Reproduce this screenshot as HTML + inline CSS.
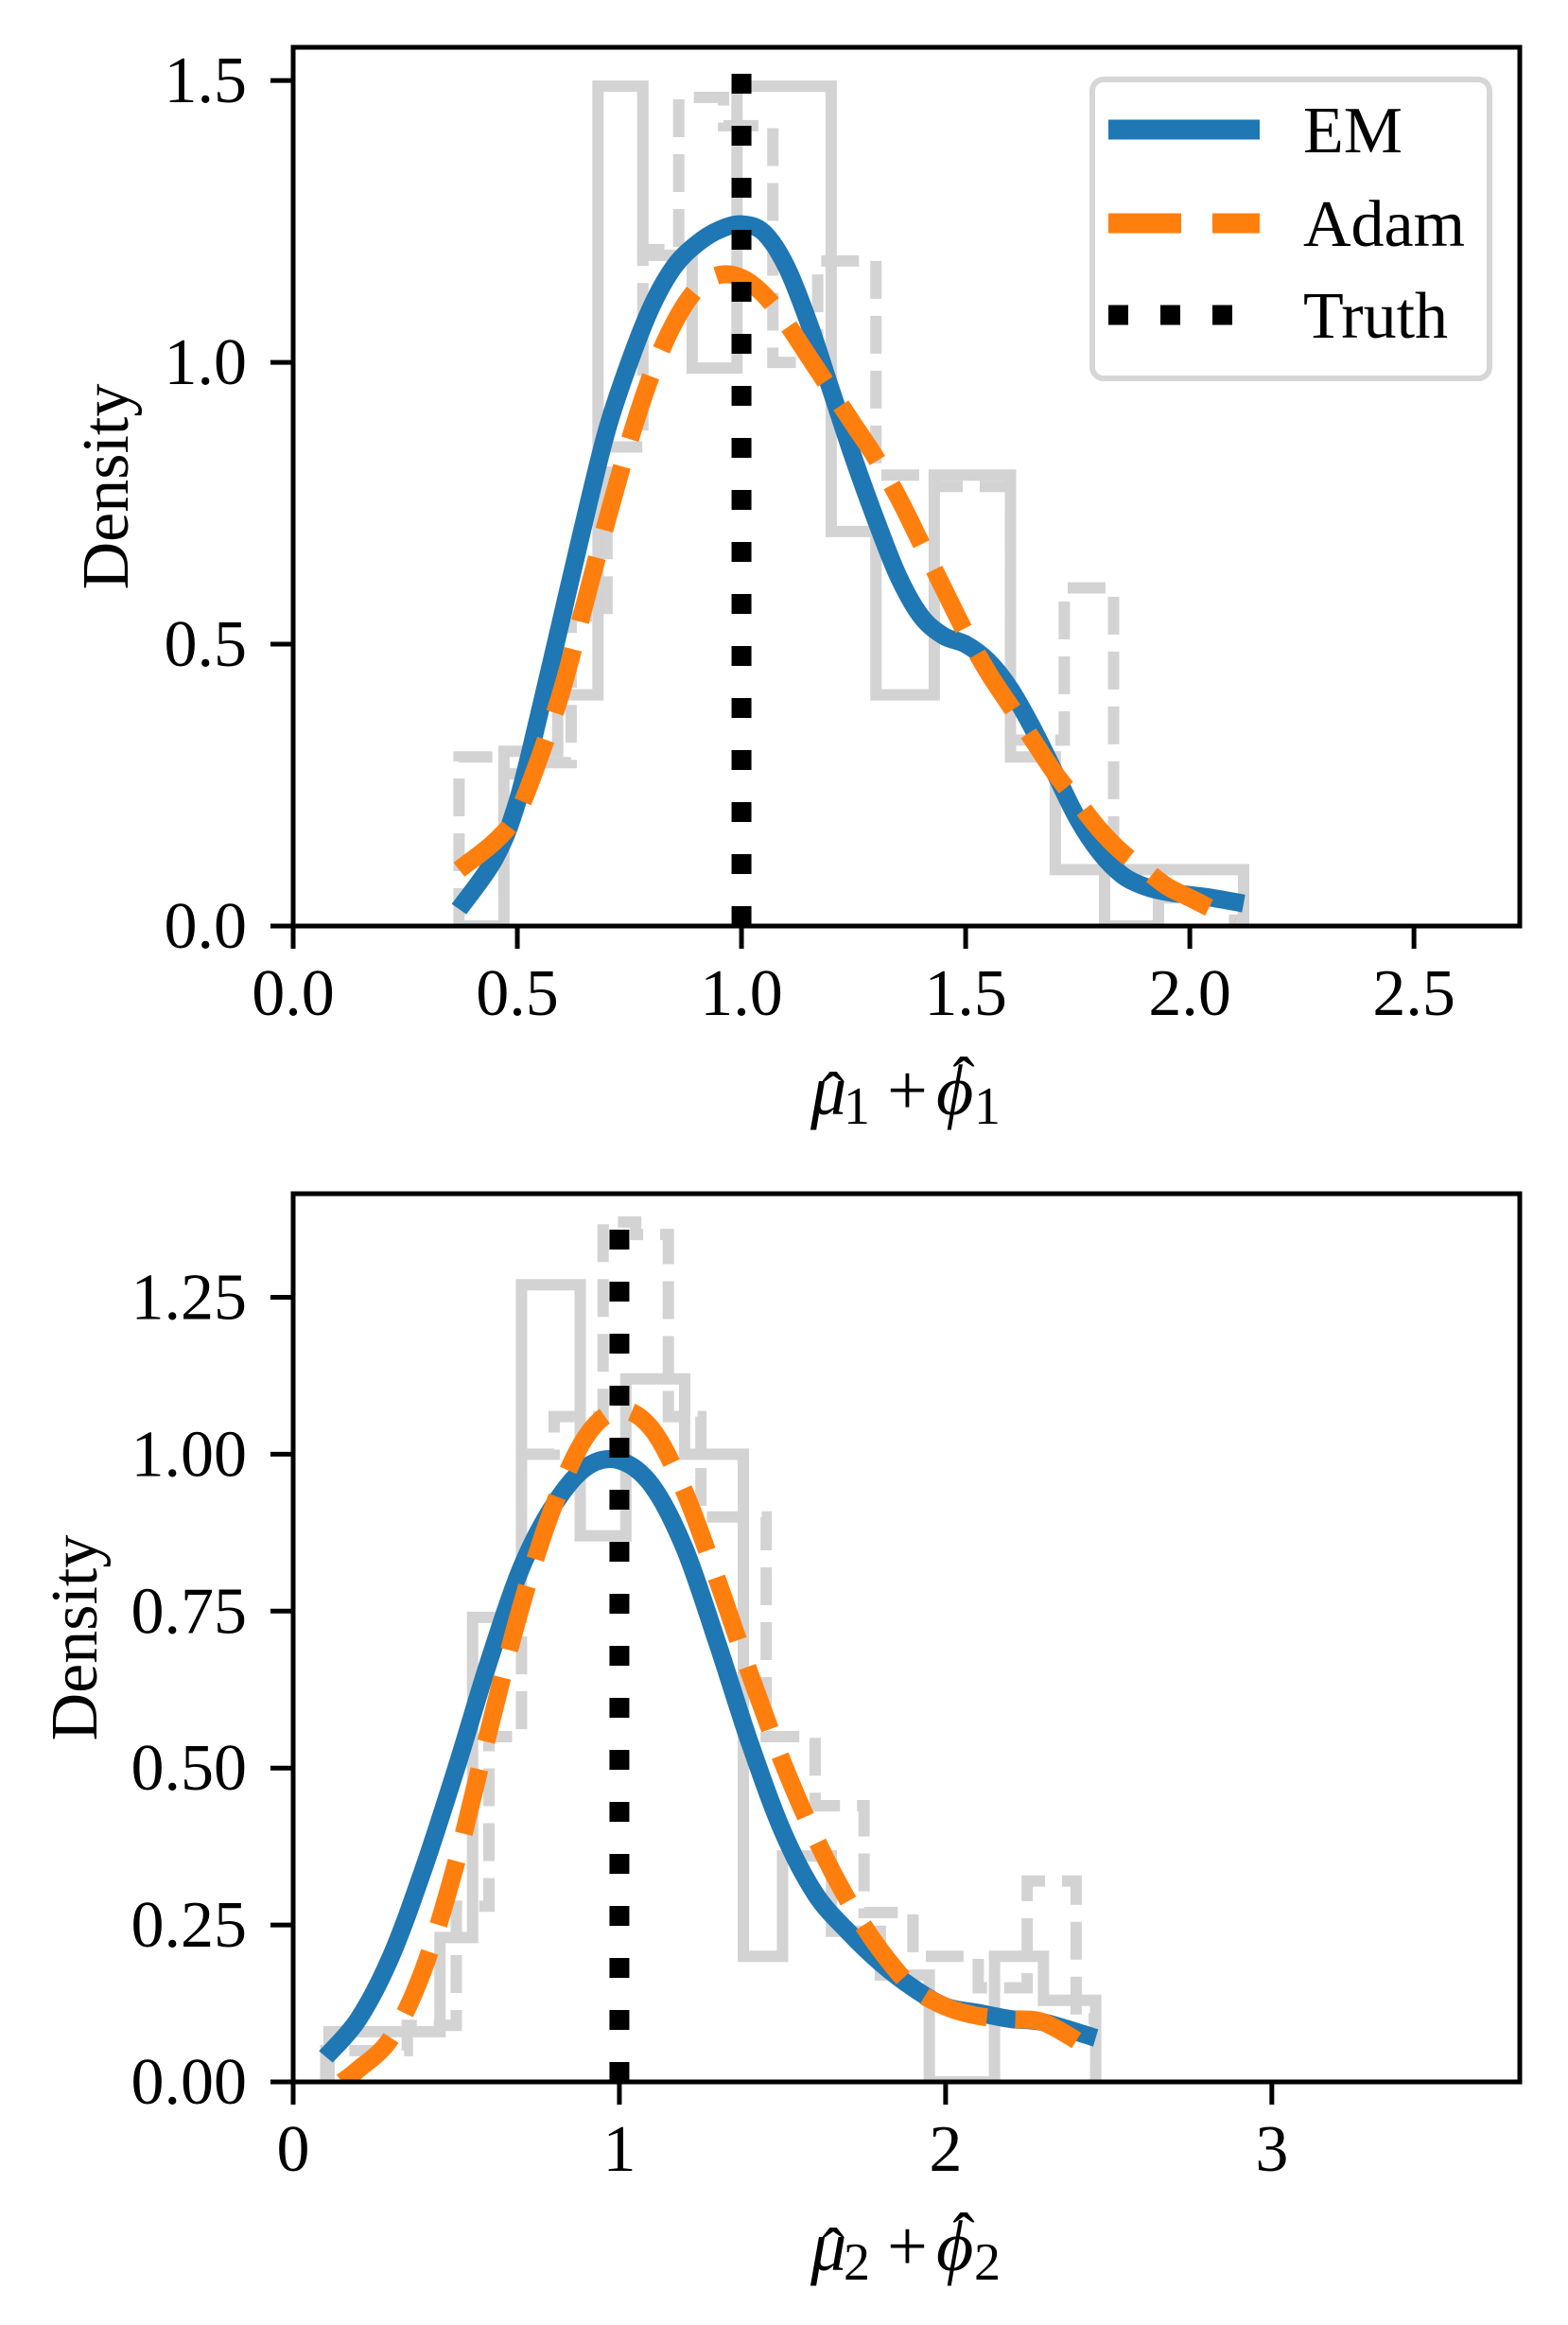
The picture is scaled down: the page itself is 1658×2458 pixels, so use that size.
<!DOCTYPE html>
<html><head><meta charset="utf-8"><style>
html,body{margin:0;padding:0;background:#fff;}
svg{display:block;font-family:"Liberation Serif","DejaVu Serif",serif;}
</style></head><body>
<svg id="fig" width="1658" height="2458" viewBox="0 0 1658 2458" xmlns="http://www.w3.org/2000/svg">
<rect width="1658" height="2458" fill="#fff"/>
<g id="top"></g>
<g id="bot"></g>
</svg>
<script>
// ----- Top panel data -----
const topX = [0.37,0.45,0.5,0.55,0.6,0.65,0.7,0.75,0.8,0.85,0.9,0.95,1.0,1.05,1.1,1.15,1.2,1.25,1.3,1.35,1.4,1.45,1.5,1.55,1.6,1.65,1.7,1.75,1.8,1.85,1.9,1.95,2.0,2.05,2.12];
const topEM = [0.03,0.12,0.22,0.38,0.55,0.72,0.88,1.0,1.1,1.17,1.21,1.235,1.245,1.23,1.17,1.07,0.95,0.83,0.72,0.62,0.55,0.515,0.5,0.47,0.42,0.35,0.27,0.19,0.13,0.09,0.07,0.06,0.055,0.05,0.04];
const topAdamX = [0.37,0.45,0.5,0.55,0.6,0.65,0.7,0.75,0.8,0.85,0.9,0.95,1.0,1.05,1.1,1.15,1.2,1.25,1.3,1.35,1.4,1.45,1.5,1.55,1.6,1.65,1.7,1.75,1.8,1.85,1.9,1.95,2.0,2.05,2.1];
const topAdam = [0.1,0.15,0.2,0.3,0.42,0.57,0.72,0.86,0.98,1.07,1.13,1.155,1.15,1.12,1.07,1.01,0.95,0.89,0.83,0.76,0.68,0.6,0.52,0.45,0.39,0.33,0.27,0.22,0.17,0.13,0.1,0.07,0.05,0.03,0.01];
const topHistSolidEdges = [0.37,0.47,0.59,0.68,0.78,0.89,0.99,1.2,1.3,1.43,1.6,1.7,1.81,1.93,2.12];
const topHistSolid = [0.0,0.31,0.41,1.49,1.19,0.99,1.49,0.7,0.41,0.8,0.3,0.1,0.0,0.1];
const topHistDashEdges = [0.37,0.47,0.55,0.62,0.7,0.78,0.86,0.96,1.07,1.17,1.3,1.43,1.6,1.72,1.83,1.93,2.1];
const topHistDash = [0.3,0.27,0.29,0.55,0.85,1.2,1.47,1.42,1.0,1.18,0.8,0.78,0.33,0.6,0.1,0.05];
const topXTicks = [0,0.5,1.0,1.5,2.0,2.5];
const topXTickLabels = ["0.0","0.5","1.0","1.5","2.0","2.5"];
const topYTicks = [0,0.5,1.0,1.5];
const topYTickLabels = ["0.0","0.5","1.0","1.5"];
const topTruth = [1.0, 1.52];

// ----- Bottom panel data -----
const botX = [0.1,0.2,0.3,0.4,0.5,0.6,0.7,0.8,0.9,1.0,1.1,1.2,1.3,1.4,1.5,1.6,1.7,1.8,1.9,2.0,2.1,2.2,2.3,2.46];
const botEM = [0.04,0.1,0.2,0.34,0.5,0.67,0.82,0.92,0.98,0.99,0.95,0.85,0.7,0.54,0.4,0.3,0.24,0.19,0.15,0.12,0.11,0.1,0.095,0.07];
const botAdamX = [0.15,0.2,0.3,0.4,0.5,0.6,0.7,0.8,0.9,1.0,1.1,1.2,1.3,1.4,1.5,1.6,1.7,1.8,1.9,2.0,2.1,2.2,2.3,2.42];
const botAdam = [0.0,0.02,0.07,0.18,0.35,0.56,0.76,0.92,1.03,1.07,1.04,0.94,0.8,0.65,0.51,0.39,0.29,0.21,0.15,0.12,0.105,0.1,0.095,0.06];
const botHistSolidEdges = [0.11,0.45,0.55,0.7,0.88,1.02,1.2,1.38,1.5,1.65,1.8,1.95,2.15,2.3,2.46];
const botHistSolid = [0.08,0.23,0.74,1.27,0.87,1.12,1.0,0.2,0.36,0.24,0.17,0.0,0.2,0.13];
const botHistDashEdges = [0.1,0.35,0.5,0.6,0.7,0.8,0.95,1.05,1.15,1.25,1.45,1.6,1.75,1.9,2.1,2.25,2.4,2.46];
const botHistDash = [0.05,0.09,0.28,0.55,1.0,1.06,1.37,1.35,1.06,0.9,0.55,0.44,0.27,0.2,0.15,0.32,0.1];
const botXTicks = [0,1,2,3];
const botXTickLabels = ["0","1","2","3"];
const botYTicks = [0,0.25,0.5,0.75,1.0,1.25];
const botYTickLabels = ["0.00","0.25","0.50","0.75","1.00","1.25"];
const botTruth = [1.0, 1.38];

const NS = "http://www.w3.org/2000/svg";
function mk(tag, attrs, parent){
  const e = document.createElementNS(NS, tag);
  for (const k in attrs) e.setAttribute(k, attrs[k]);
  parent.appendChild(e); return e;
}
function smooth(pts){
  let d = 'M'+pts[0][0].toFixed(1)+','+pts[0][1].toFixed(1);
  for (let i=0;i<pts.length-1;i++){
    const p0=pts[Math.max(0,i-1)], p1=pts[i], p2=pts[i+1], p3=pts[Math.min(pts.length-1,i+2)];
    const c1=[p1[0]+(p2[0]-p0[0])/6, p1[1]+(p2[1]-p0[1])/6];
    const c2=[p2[0]-(p3[0]-p1[0])/6, p2[1]-(p3[1]-p1[1])/6];
    d += ' C'+c1[0].toFixed(1)+','+c1[1].toFixed(1)+' '+c2[0].toFixed(1)+','+c2[1].toFixed(1)+' '+p2[0].toFixed(1)+','+p2[1].toFixed(1);
  }
  return d;
}

function panel(g, cfg){
  const L=310, R=1607, T=cfg.top, B=cfg.bottom;
  const sx = v => L + v*(R-L)/cfg.xmax;
  const sy = v => B - v*(B-T)/cfg.ymax;
  const clipId = cfg.id+"clip";
  const defs = mk('defs',{},g);
  const cp = mk('clipPath',{id:clipId},defs);
  mk('rect',{x:L,y:T,width:R-L,height:B-T},cp);
  const plot = mk('g',{'clip-path':'url(#'+clipId+')'},g);

  function hist(edges, vals, dash, name){
    let d = 'M'+sx(edges[0])+','+sy(0);
    for (let i=0;i<vals.length;i++){
      d += ' L'+sx(edges[i])+','+sy(vals[i])+' L'+sx(edges[i+1])+','+sy(vals[i]);
    }
    d += ' L'+sx(edges[edges.length-1])+','+sy(0);
    const p = mk('path',{d:d,fill:'none',stroke:'#d3d3d3','stroke-width':12,'stroke-linejoin':'miter'},plot);
    if (dash) p.setAttribute('stroke-dasharray', dash);
    
    
  }
  hist(cfg.hsE, cfg.hs, null, 'histogram-solid');
  hist(cfg.hdE, cfg.hd, '40,18', 'histogram-dashed');

  function line(xs, ys, color, dash, name){
    const d = smooth(xs.map((x,i)=>[sx(x), sy(ys[i])]));
    const p = mk('path',{d:d,fill:'none',stroke:color,'stroke-width':19,'stroke-linejoin':'round'},plot);
    if (dash) p.setAttribute('stroke-dasharray', dash);
    
    
  }
  line(cfg.emX, cfg.em, '#1f77b4', null, 'em-curve');
  line(cfg.adX, cfg.ad, '#ff7f0e', '70,30', 'adam-curve');
  const tr = mk('line',{x1:sx(cfg.truth[0]),x2:sx(cfg.truth[0]),y1:sy(0),y2:sy(cfg.truth[1]),stroke:'#000','stroke-width':21,'stroke-dasharray':'21,34'},plot);
  
  

  const frame = mk('rect',{x:L,y:T,width:R-L,height:B-T,fill:'none',stroke:'#000','stroke-width':5},g);
  
  

  cfg.xt.forEach((v,i)=>{
    mk('line',{x1:sx(v),x2:sx(v),y1:B,y2:B+24,stroke:'#000','stroke-width':5},g);
    const t = mk('text',{x:sx(v),y:B+94,'font-size':70,'text-anchor':'middle',fill:'#000'},g);
    t.textContent = cfg.xtl[i];
    
    
  });
  cfg.yt.forEach((v,i)=>{
    mk('line',{x1:L-24,x2:L,y1:sy(v),y2:sy(v),stroke:'#000','stroke-width':5},g);
    const t = mk('text',{x:261,y:sy(v)+23,'font-size':70,'text-anchor':'end',fill:'#000'},g);
    t.textContent = cfg.ytl[i];
    
    
  });
  const yl = mk('text',{x:0,y:0,'font-size':70,'text-anchor':'middle',fill:'#000',transform:'translate('+(cfg.ylx)+','+((T+B)/2)+') rotate(-90)'},g);
  yl.textContent = 'Density';
  
  

  const by = B+199;
  const xl = mk('text',{x:857,y:by,'font-size':76,fill:'#000'},g);
  
  
  xl.innerHTML = '<tspan x="857" y="'+by+'" font-style="italic">μ</tspan><tspan x="892" y="'+(by+10)+'" font-size="56">'+cfg.sub+'</tspan><tspan x="938" y="'+by+'">+</tspan><tspan x="990" y="'+by+'" font-style="italic">ϕ</tspan><tspan x="1030" y="'+(by+10)+'" font-size="56">'+cfg.sub+'</tspan>';
  const h1 = mk('text',{x:881,y:by+4,'font-size':70,'text-anchor':'middle',fill:'#000'},g);
  h1.textContent = 'ˆ';
  
  
  const h2 = mk('text',{x:1019,y:by-12,'font-size':70,'text-anchor':'middle',fill:'#000'},g);
  h2.textContent = 'ˆ';
  
  
  return {sx, sy};
}

panel(document.getElementById('top'), {id:'t', top:50, bottom:979, xmax:2.736, ymax:1.559,
  hsE:topHistSolidEdges, hs:topHistSolid, hdE:topHistDashEdges, hd:topHistDash,
  emX:topX, em:topEM, adX:topAdamX, ad:topAdam, truth:topTruth,
  xt:topXTicks, xtl:topXTickLabels, yt:topYTicks, ytl:topYTickLabels, ylx:135, sub:'1'});

panel(document.getElementById('bot'), {id:'b', top:1262, bottom:2201, xmax:3.76, ymax:1.415,
  hsE:botHistSolidEdges, hs:botHistSolid, hdE:botHistDashEdges, hd:botHistDash,
  emX:botX, em:botEM, adX:botAdamX, ad:botAdam, truth:botTruth,
  xt:botXTicks, xtl:botXTickLabels, yt:botYTicks, ytl:botYTickLabels, ylx:102, sub:'2'});

// Legend
const tg = document.getElementById('top');
const lg = mk('g',{},tg);


mk('rect',{x:1155,y:84,width:420,height:316,rx:12,fill:'#fff','fill-opacity':0.8,stroke:'#d6d6d6','stroke-width':6},lg);
const entries = [['EM','#1f77b4',null,137,21],['Adam','#ff7f0e','77,33',236,21],['Truth','#000','21,34',333,21]];
entries.forEach(e=>{
  const ln = mk('line',{x1:1172,x2:1332,y1:e[3],y2:e[3],stroke:e[1],'stroke-width':e[4]},lg);
  if (e[2]) ln.setAttribute('stroke-dasharray', e[2]);
  
  
  const t = mk('text',{x:1378,y:e[3]+24,'font-size':70,fill:'#000'},lg);
  t.textContent = e[0];
  
  
});
</script>
</body></html>
